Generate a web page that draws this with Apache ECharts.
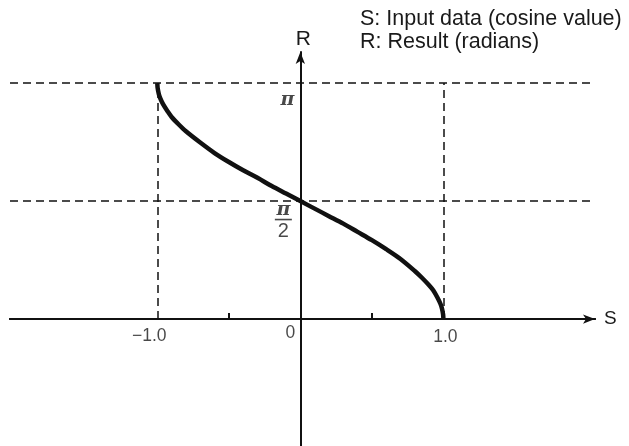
<!DOCTYPE html>
<html>
<head>
<meta charset="utf-8">
<script src="https://cdn.jsdelivr.net/npm/echarts@6/dist/echarts.min.js"></script>
<style>
  html, body { margin: 0; padding: 0; background: #fff; }
  #chart { width: 629px; height: 446px; }
</style>
</head>
<body>
<div id="chart"></div>
<script>
// input (cosine value) and result (radians)
var sValues = [-1.0, -0.998, -0.99, -0.98, -0.96, -0.93, -0.9, -0.85, -0.8, -0.7, -0.6, -0.5, -0.4, -0.3, -0.2, -0.1, 0.0,
  0.1, 0.2, 0.3, 0.4, 0.5, 0.6, 0.7, 0.8, 0.85, 0.9, 0.93, 0.96, 0.98, 0.99, 0.998, 1.0];
var rValues = [3.14, 3.08, 3.00, 2.94, 2.86, 2.77, 2.69, 2.59, 2.50, 2.35, 2.21, 2.09, 1.98, 1.88, 1.77, 1.67, 1.57,
  1.47, 1.37, 1.27, 1.16, 1.05, 0.93, 0.80, 0.64, 0.55, 0.45, 0.38, 0.28, 0.20, 0.14, 0.06, 0.0];
var sTicks = [-0.5, 0.5];
var sLabels = ["\u22121.0", "0", "1.0"];
var sLabelAt = [-1.0, 0, 1.0];
var PI = 3.1416;
var rLabelAt = [PI, PI / 2];
var rLabels = ["{p|\u03c0}", "{p|\u03c0}\n{bar| }\n{d|2}"];
var legendLines = ["S: Input data (cosine value)", "R: Result (radians)"];

var curve = sValues.map(function (s, i) { return [s, rValues[i]]; });

var chart = echarts.init(document.getElementById("chart"));

var sans = "Liberation Sans, Arial, sans-serif";
var dashStyle = { color: "#111", width: 1.5, type: [8, 5] };
var lineCol = "#111";

// label offsets (px) from the anchor point of each tick label
var sOffsets = [[-8, 17], [-10, 14], [2, 18]];
var rOffsets = [[-13, 17], [-17, 21]];

var tickLabelData = sLabelAt.map(function (v, i) {
  return { value: [v, 0], label: { formatter: sLabels[i], offset: sOffsets[i] } };
}).concat(rLabelAt.map(function (v, i) {
  return { value: [0, v], label: { formatter: rLabels[i], offset: rOffsets[i] } };
}));

var baseX = {
  type: "value",
  min: -2.03,
  max: 2.06,
  axisLabel: { show: false },
  splitLine: { show: false }
};

var option = {
  animation: false,
  title: {
    text: legendLines.join("\n"),
    left: 360,
    top: 8,
    padding: 0,
    textStyle: {
      fontFamily: sans,
      fontWeight: "normal",
      fontSize: 21.5,
      lineHeight: 23,
      color: "#1a1a1a"
    }
  },
  grid: { left: 10, right: 34, top: 52, bottom: 0, outerBoundsMode: "none" },
  xAxis: [
    Object.assign({}, baseX, {
      name: "S",
      nameLocation: "end",
      nameGap: 9,
      nameTextStyle: { fontFamily: sans, fontSize: 19, color: "#1a1a1a" },
      axisLine: {
        onZero: true,
        symbol: ["none", "arrow"],
        symbolSize: [7, 12],
        lineStyle: { color: lineCol, width: 2.2 }
      },
      axisTick: {
        show: true,
        inside: true,
        length: 6,
        customValues: sTicks,
        lineStyle: { color: lineCol, width: 1.8 }
      }
    }),
    Object.assign({}, baseX, {
      axisLine: { onZero: true, onZeroAxisIndex: 0, lineStyle: { color: lineCol, width: 2.2 } },
      axisTick: {
        show: true,
        inside: false,
        length: 6,
        customValues: sTicks,
        lineStyle: { color: lineCol, width: 1.8 }
      }
    })
  ],
  yAxis: {
    type: "value",
    min: -1.69,
    max: 3.555,
    name: "R",
    nameLocation: "end",
    nameGap: 2,
    nameTextStyle: { fontFamily: sans, fontSize: 21, color: "#1a1a1a", padding: [0, 0, 0, 6] },
    axisLine: {
      onZero: true,
      symbol: ["none", "arrow"],
      symbolSize: [7, 12],
      lineStyle: { color: lineCol, width: 2 }
    },
    axisTick: { show: false },
    axisLabel: { show: false },
    splitLine: { show: false }
  },
  series: [
    {
      type: "line",
      data: curve,
      smooth: 0.3,
      showSymbol: false,
      lineStyle: { color: lineCol, width: 4.5 },
      markLine: {
        silent: true,
        symbol: ["none", "none"],
        label: { show: false },
        lineStyle: dashStyle,
        data: [
          { yAxis: PI },
          { yAxis: PI / 2 },
          [{ coord: [-1, 0] }, { coord: [-1, PI] }],
          [{ coord: [1, 0] }, { coord: [1, PI] }]
        ]
      }
    },
    {
      // tick labels, anchored at their axis values
      type: "scatter",
      data: tickLabelData,
      symbolSize: 0,
      silent: true,
      label: {
        show: true,
        position: "inside",
        fontFamily: sans,
        fontSize: 17.5,
        color: "#1a1a1a",
        rich: {
          p: { fontFamily: "DejaVu Serif, serif", fontStyle: "italic", fontWeight: "bold", fontSize: 19, lineHeight: 13, align: "center", color: "#1a1a1a" },
          bar: { width: 17, height: 1.6, lineHeight: 5, backgroundColor: "#1a1a1a", align: "center" },
          d: { fontFamily: sans, fontSize: 20, lineHeight: 18, align: "center", color: "#1a1a1a" }
        }
      }
    }
  ]
};

chart.setOption(option);
window.onresize = function () {
  chart.resize();
};
</script>
</body>
</html>
